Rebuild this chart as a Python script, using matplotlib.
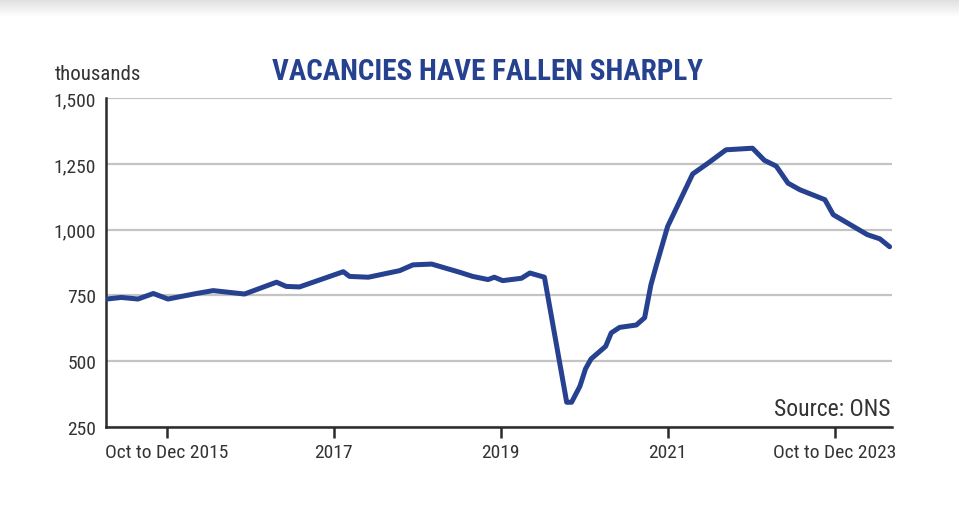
import matplotlib
matplotlib.use("Agg")
import matplotlib.pyplot as plt
import numpy as np

# months relative to the "Oct to Dec 2015" period
months = [-8.6, -6.5, -4.1, -1.9, 0.2, 4.3, 6.7, 11.2, 15.8, 17.2, 19.1,
          25.4, 26.3, 29.0, 33.5, 35.4, 38.1, 42.1, 44.0, 46.2, 47.1, 48.3,
          51.0, 52.2, 54.3, 57.5, 58.2, 59.4, 60.2, 61.0, 63.1, 63.9, 65.1,
          67.5, 68.7, 69.6, 70.4, 72.0, 75.6, 77.8, 80.4, 84.2, 85.9, 87.6,
          89.3, 91.0, 94.6, 95.8, 100.7, 102.5, 103.9]
vacancies = [736, 742, 736, 757, 736, 757, 768, 755, 800, 784, 782,
             840, 822, 819, 844, 866, 869, 838, 822, 810, 819, 806,
             815, 835, 819, 343, 343, 404, 470, 508, 556, 607, 628,
             637, 665, 790, 866, 1012, 1212, 1253, 1304, 1310, 1264, 1242,
             1177, 1152, 1114, 1057, 981, 965, 935]

tick_pos = [0, 24, 48, 72, 96]
tick_labels = ["Oct to Dec 2015", "2017", "2019", "2021", "Oct to Dec 2023"]
y_ticks = [250, 500, 750, 1000, 1250, 1500]

blue = "#26418f"
grey_text = "#333333"
plt.rcParams["font.family"] = ["Roboto Condensed", "DejaVu Sans"]
plt.rcParams["font.stretch"] = "condensed"

fig = plt.figure(figsize=(9.59, 5.10), dpi=100)

# faint grey shading along the top edge
band = fig.add_axes([0, 1 - 18 / 510, 1, 18 / 510])
grad = np.linspace(0.87, 1.0, 50).reshape(-1, 1)
band.imshow(grad, cmap="gray", vmin=0, vmax=1, aspect="auto")
band.axis("off")

ax = fig.add_axes([106 / 959, 1 - 427.7 / 510, (891.7 - 106) / 959, (427.7 - 99.3) / 510])

ax.plot(months, vacancies, color=blue, linewidth=3.6, solid_joinstyle="round",
        solid_capstyle="round", zorder=3)

ax.set_xlim(-8.7, 104.2)
ax.set_ylim(250, 1500)

ax.set_yticks(y_ticks)
ax.set_yticklabels([f"{v:,}" for v in y_ticks])
ax.set_xticks(tick_pos)
ax.set_xticklabels(tick_labels)

ax.grid(axis="y", color="#c4c4c4", linewidth=1.6, zorder=1)
ax.set_axisbelow(True)

for side in ["top", "right"]:
    ax.spines[side].set_visible(False)
for side in ["left", "bottom"]:
    ax.spines[side].set_color("#2b2b2b")
    ax.spines[side].set_linewidth(1.8)

ax.tick_params(axis="y", length=0, pad=7, labelsize=14, labelcolor=grey_text)
ax.tick_params(axis="x", length=8, width=1.8, color="#2b2b2b", pad=4,
               labelsize=14, labelcolor=grey_text)

fig.text(55 / 959, 1 - 75 / 510, "thousands", fontsize=15, color=grey_text,
         ha="left", va="center")
fig.text(487.5 / 959, 1 - 72 / 510, "VACANCIES HAVE FALLEN SHARPLY", fontsize=21,
         fontweight="bold", color=blue, ha="center", va="center")
ax.text(0.999, 0.02, "Source: ONS", transform=ax.transAxes, fontsize=17,
        color=grey_text, ha="right", va="bottom")

fig.savefig("out.png", dpi=100)
